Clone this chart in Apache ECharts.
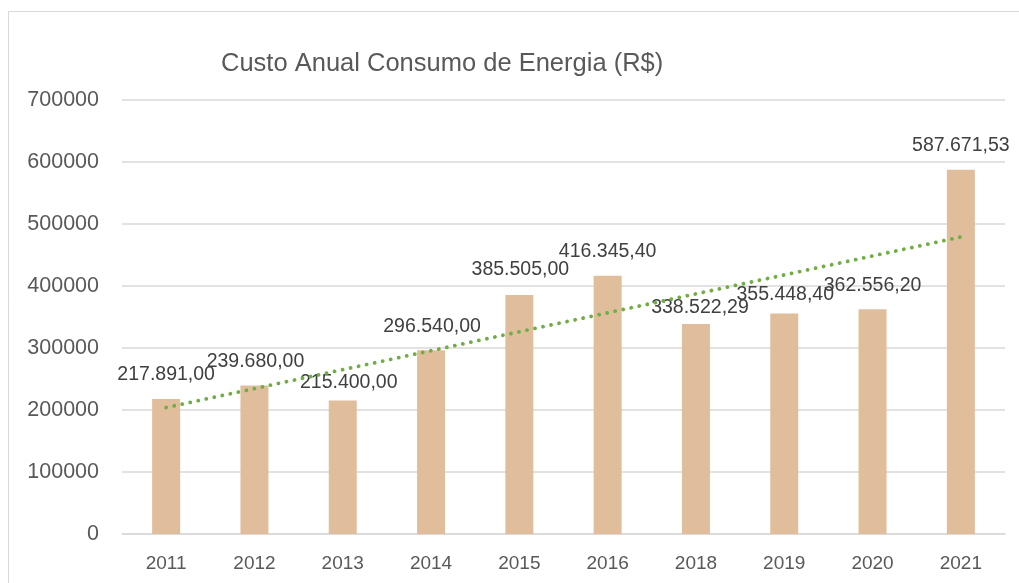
<!DOCTYPE html>
<html><head><meta charset="utf-8">
<script src="https://cdn.jsdelivr.net/npm/echarts@6/dist/echarts.min.js"></script>
<style>html,body{margin:0;padding:0;background:#fff}#c{width:1019px;height:583px}</style>
</head><body><div id="c"></div>
<script>
var title = 'Custo Anual Consumo de Energia (R$)';
var categories = ['2011','2012','2013','2014','2015','2016','2018','2019','2020','2021'];
var costs = [217891.00, 239680.00, 215400.00, 296540.00, 385505.00, 416345.40, 338522.29, 355448.40, 362556.20, 587671.53];
// linear trendline endpoints (first and last category)
var trendStart = 204000;
var trendEnd = 479000;
var yTicks = [0, 100000, 200000, 300000, 400000, 500000, 600000, 700000];

// label layout tweaks (style only): [dx, dy]
var labelOffsets = [[0,0],[1,0],[6,6],[1,0],[1,-1],[0,0],[4,8],[1,5],[0,0],[0,0]];

function fmtBR(v){
  var s = v.toFixed(2).split('.');
  var i = s[0].replace(/\B(?=(\d{3})+(?!\d))/g, '.');
  return i + ',' + s[1];
}

var trendData = categories.map(function(c, i){
  if (i === 0) return trendStart;
  if (i === categories.length - 1) return trendEnd;
  return null;
});

var FONT = '"Liberation Sans", Arial, sans-serif';
var chart = echarts.init(document.getElementById('c'), null, {renderer:'canvas'});
chart.setOption({
  animation: false,
  backgroundColor: '#fff',
  title: {
    text: title, left: 216, top: 46,
    textStyle: {fontFamily: FONT, fontSize: 25.5, fontWeight: 'normal', color: '#595959'}
  },
  graphic: [{
    type: 'rect', shape: {x: 8.5, y: 11.5, width: 1030, height: 600},
    style: {fill: null, stroke: '#d9d9d9', lineWidth: 1}, silent: true
  }],
  grid: {left: 122, right: 14, top: 100, bottom: 49, containLabel: false},
  xAxis: {
    type: 'category', data: categories,
    axisLine: {show: true, lineStyle: {color: '#d9d9d9', width: 1.5}},
    axisTick: {show: false},
    axisLabel: {fontFamily: FONT, fontSize: 19, color: '#595959', margin: 20}
  },
  yAxis: {
    type: 'value', min: yTicks[0], max: yTicks[yTicks.length-1], interval: 100000,
    axisLine: {show: false}, axisTick: {show: false},
    splitLine: {lineStyle: {color: '#d9d9d9', width: 1.5}},
    axisLabel: {fontFamily: FONT, fontSize: 21.5, color: '#595959', margin: 23,
      formatter: function(v){ return String(v); }}
  },
  series: [{
    type: 'bar', data: costs.map(function(v, i){
      return {value: v, label: {offset: labelOffsets[i]}};
    }),
    barWidth: 28,
    itemStyle: {color: '#E0BE9B'},
    label: {
      show: true, position: 'top', distance: 14,
      fontFamily: FONT, fontSize: 19.5, color: '#404040',
      formatter: function(p){ return fmtBR(p.value); }
    },
    z: 2
  }, {
    type: 'line', data: trendData, connectNulls: true,
    symbol: 'none', silent: true,
    lineStyle: {color: '#70AD47', width: 3.8, type: [0.1, 8.1], cap: 'round'},
    z: 3
  }]
});
</script>
</body></html>
